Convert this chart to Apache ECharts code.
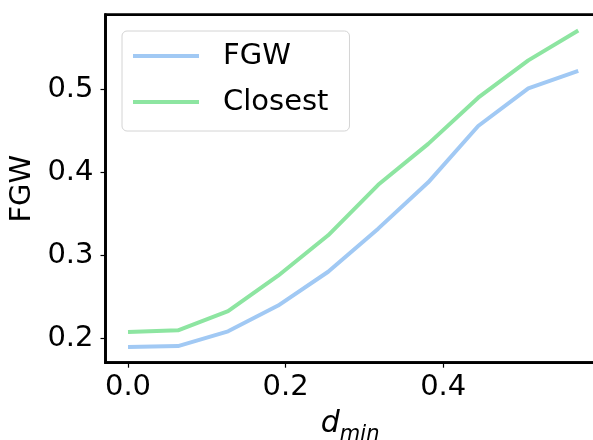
<!DOCTYPE html>
<html>
<head>
<meta charset="utf-8">
<script src="https://cdn.jsdelivr.net/npm/echarts@6/dist/echarts.min.js"></script>
<style>
html,body{margin:0;padding:0;background:#fff;}
#chart{width:593px;height:440px;}
</style>
</head>
<body>
<div id="chart"></div>
<script>
var xValues = [0, 0.0635, 0.127, 0.1905, 0.254, 0.3175, 0.381, 0.4444, 0.508, 0.5714];
var fgwValues = [0.190, 0.191, 0.2088, 0.2398, 0.2805, 0.3324, 0.3882, 0.456, 0.5012, 0.5223];
var closestValues = [0.208, 0.210, 0.2331, 0.2757, 0.3244, 0.3852, 0.4345, 0.4901, 0.535, 0.571];
var xTicks = [0.0, 0.2, 0.4];
var yTicks = [0.2, 0.3, 0.4, 0.5];
var seriesNames = ['FGW', 'Closest'];

function pairs(ys){ return xValues.map(function(x,i){ return [x, ys[i]]; }); }

var FONT = 'DejaVu Sans';
var chart = echarts.init(document.getElementById('chart'), null, {renderer:'canvas'});
chart.setOption({
  animation: false,
  backgroundColor: '#ffffff',
  grid: {
    left: 105.5, top: 14.7, right: -7.8, bottom: 77.3,
    outerBoundsMode: 'none', containLabel: false,
    show: true, borderColor: '#000', borderWidth: 2.7, backgroundColor: 'transparent'
  },
  legend: {
    left: 122, top: 31,
    orient: 'vertical',
    data: seriesNames.map(function(n){ return {name:n, icon:'rect'}; }),
    itemWidth: 66, itemHeight: 4, itemGap: 14,
    padding: [9, 21, 13, 11],
    borderColor: '#d4d4d4', borderWidth: 1, borderRadius: 5,
    backgroundColor: 'rgba(255,255,255,0.8)',
    textStyle: {fontFamily: FONT, fontSize: 29, color: '#000', lineHeight: 32, padding: [0,0,0,19]}
  },
  xAxis: {
    type: 'value', min: -0.02857, max: 0.6,
    splitLine: {show:false},
    axisLine: {show:true, onZero:false, lineStyle:{color:'#000', width:2.7}},
    axisTick: {show:true, length:5, lineStyle:{color:'#000', width:1.2}, customValues: xTicks},
    axisLabel: {fontFamily: FONT, fontSize: 29, color:'#000', margin: 10, customValues: xTicks,
      formatter: function(v){ return v.toFixed(1); }},
    name: '{d|d}{s|min}',
    nameLocation: 'middle', nameGap: 47,
    nameTextStyle: {
      padding: [0, 6, 0, 0],
      rich: {
        d: {fontFamily: FONT, fontStyle:'italic', fontSize: 30, color:'#000', verticalAlign:'bottom'},
        s: {fontFamily: FONT, fontStyle:'italic', fontSize: 21, color:'#000', verticalAlign:'bottom', padding:[0,0,-5,0]}
      }
    }
  },
  yAxis: {
    type: 'value', min: 0.171, max: 0.59,
    splitLine: {show:false},
    axisLine: {show:true, onZero:false, lineStyle:{color:'#000', width:2.7}},
    axisTick: {show:true, length:5, lineStyle:{color:'#000', width:1.2}, customValues: yTicks},
    axisLabel: {fontFamily: FONT, fontSize: 29, color:'#000', margin: 12, customValues: yTicks,
      formatter: function(v){ return v.toFixed(1); }},
    name: 'FGW', nameLocation: 'middle', nameGap: 66, nameRotate: 90,
    nameTextStyle: {fontFamily: FONT, fontSize: 29, color:'#000'}
  },
  series: [
    {name: seriesNames[0], type:'line', data: pairs(fgwValues), showSymbol:false, symbol:'none',
     lineStyle:{color:'#a1c9f4', width:4}, itemStyle:{color:'#a1c9f4'}},
    {name: seriesNames[1], type:'line', data: pairs(closestValues), showSymbol:false, symbol:'none',
     lineStyle:{color:'#8de5a1', width:4}, itemStyle:{color:'#8de5a1'}}
  ]
});
</script>
</body>
</html>
